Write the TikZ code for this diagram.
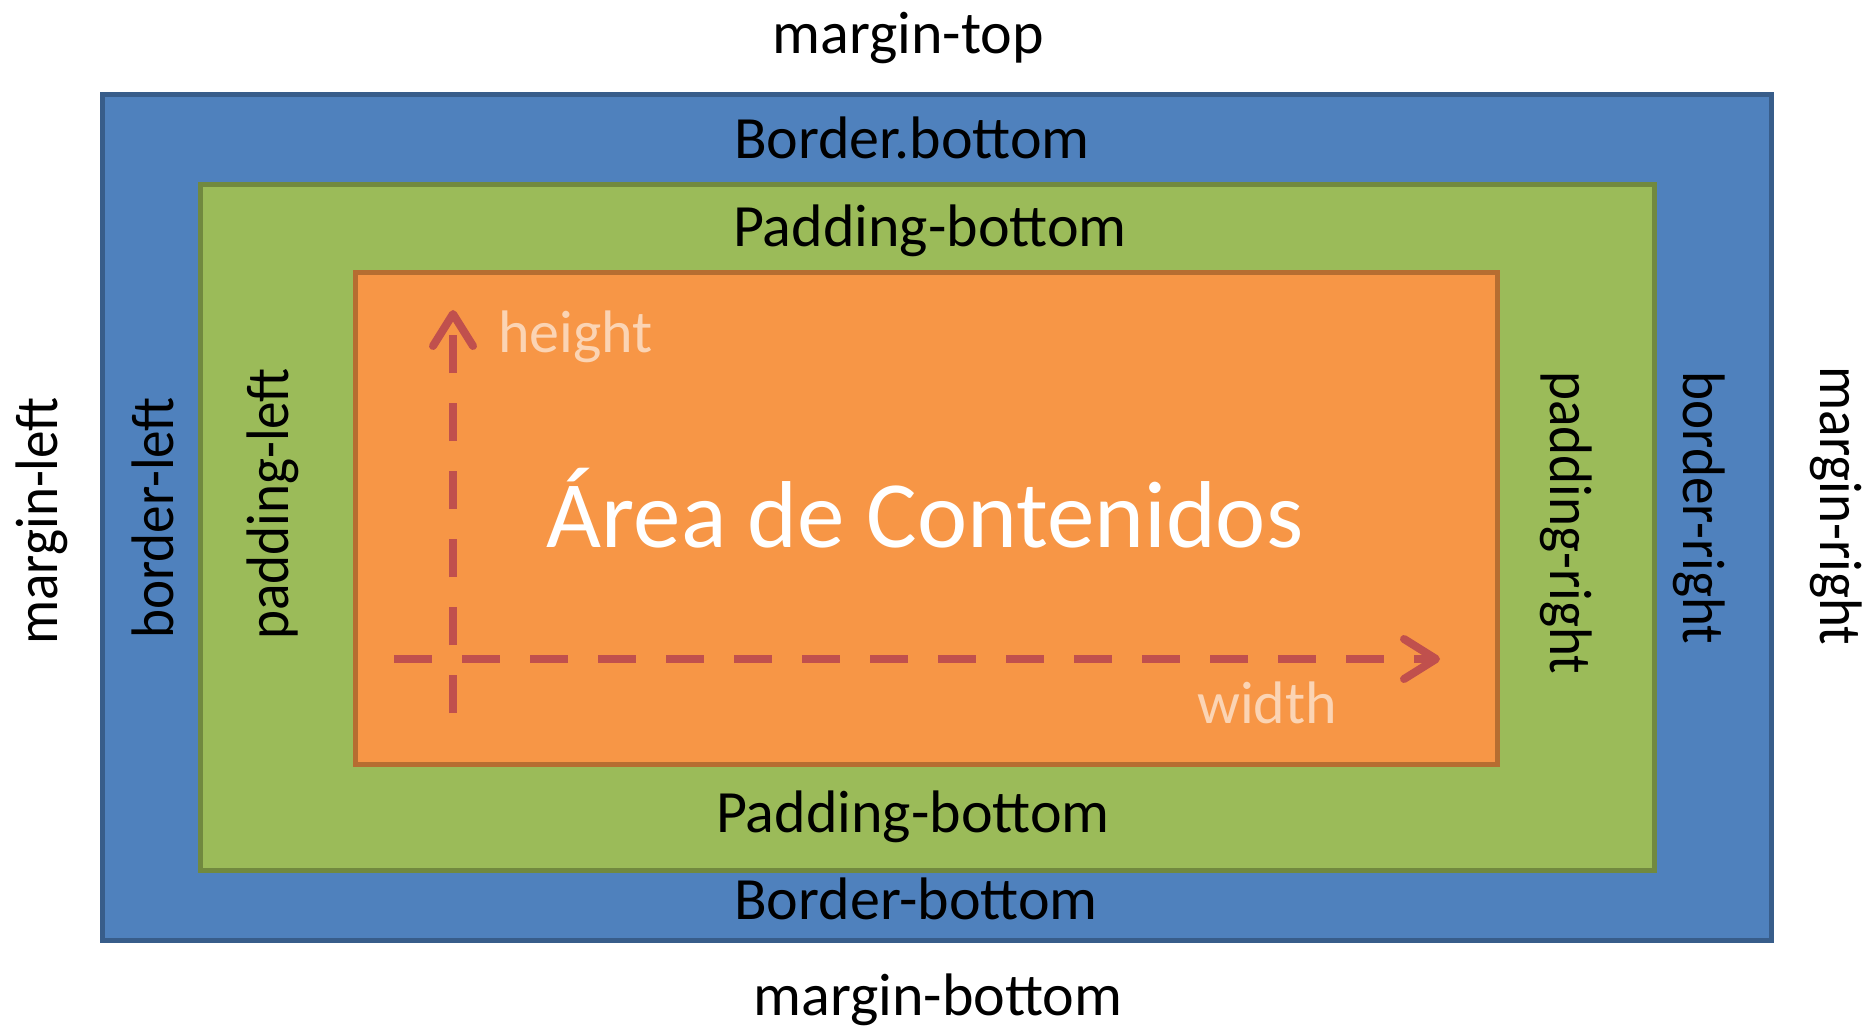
\documentclass[tikz,border=0pt]{standalone}
\usepackage{fontspec}
\setmainfont{Carlito}
\usetikzlibrary{arrows.meta}
\definecolor{bluefill}{HTML}{4F81BD}
\definecolor{blueline}{HTML}{385D8A}
\definecolor{greenfill}{HTML}{9BBB59}
\definecolor{greenline}{HTML}{71893F}
\definecolor{orangefill}{HTML}{F79646}
\definecolor{orangeline}{HTML}{B66D31}
\definecolor{arrowred}{HTML}{C0504D}
\definecolor{peach}{HTML}{FBD4B4}
\tikzset{
  lbl/.style={inner sep=0pt, font=\fontsize{60}{72}\selectfont, text=black, anchor=base},
  vlbl/.style={lbl, rotate=90},
  vrlbl/.style={lbl, rotate=-90},
  dimlbl/.style={inner sep=0pt, font=\fontsize{60}{72}\selectfont, text=peach, anchor=base west},
  dimarrow/.style={draw=arrowred, line width=8pt, dash pattern=on 38pt off 30pt,
    -{Straight Barb[length=32pt,width=40pt,line cap=round,line join=round]}},
  boxline/.style={line width=5pt}
}
\newcommand{\vsq}[1]{\scalebox{0.92}[1]{#1}}
\begin{document}
\begin{tikzpicture}[x=1pt,y=-1pt]
\useasboundingbox (0,0) rectangle (1863,1032);
% boxes
\draw[boxline, fill=bluefill, draw=blueline] (102.5,94.5) rectangle (1771.5,940.5);
\draw[boxline, fill=greenfill, draw=greenline] (200.5,184.5) rectangle (1654.5,870.5);
\draw[boxline, fill=orangefill, draw=orangeline] (355.5,272.5) rectangle (1497.5,764.5);
% labels
\node[lbl] (mtop) at (908,54) {margin-top};
\node[lbl] (btop) at (912,159) {Border.bottom};
\node[lbl] (ptop) at (930,247) {Padding-bottom};
\node[lbl] (pbot) at (913,832) {Padding-bottom};
\node[lbl] (bbot) at (916,919) {Border-bottom};
\node[lbl] (mbot) at (938,1015) {margin-bottom};
\node[vlbl] (mleft) at (57,521) {\vsq{margin-left}};
\node[vlbl] (bleft) at (173,518) {\vsq{border-left}};
\node[vlbl] (pleft) at (288,504) {\vsq{padding-left}};
\node[vrlbl] (pright) at (1550,523) {\vsq{padding-right}};
\node[vrlbl] (bright) at (1683,508) {\vsq{border-right}};
\node[vrlbl] (mright) at (1820,506) {\vsq{margin-right}};
\node[inner sep=0pt, anchor=base, text=white, font=\fontsize{95}{110}\selectfont] (content) at (925,547) {Área de Contenidos};
\node[dimlbl] (hlbl) at (498,352) {height};
\node[dimlbl] (wlbl) at (1197,723) {width};
% dimension arrows
\coordinate (vstart) at (453,713);
\coordinate (vend) at (453,310);
\coordinate (hstart) at (394,659);
\coordinate (hend) at (1440,659);
\draw[dimarrow] (vstart) -- (vend);
\draw[dimarrow] (hstart) -- (hend);
\end{tikzpicture}
\end{document}
